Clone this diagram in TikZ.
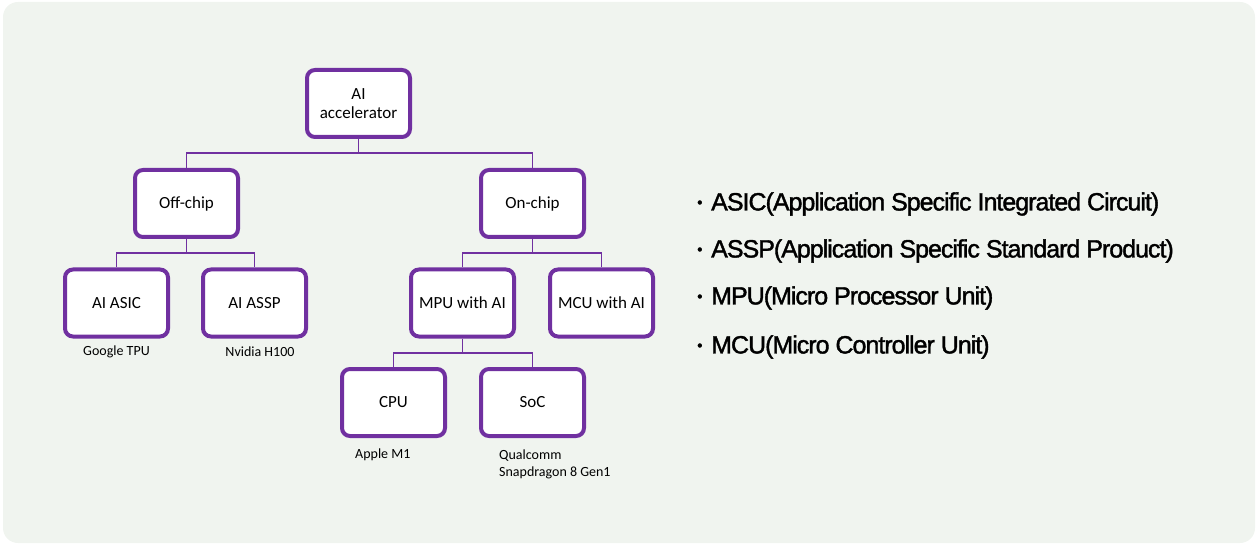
\documentclass[tikz,border=0pt]{standalone}
\usepackage{fontspec}
\setmainfont{Carlito}
\newfontfamily\kfont[FakeBold=1.5,LetterSpace=-4]{Liberation Sans}
\definecolor{bg}{HTML}{F0F4EF}
\definecolor{pur}{HTML}{7030A0}
\newcommand{\bul}{\makebox[14pt][l]{\raisebox{3pt}{\fontsize{15}{16}\selectfont\textbullet}}}
\begin{document}
\begin{tikzpicture}[x=1pt,y=-1pt,
  box/.style={draw=pur,line width=4pt,rounded corners=8pt,fill=white,minimum width=103pt,minimum height=67pt,font=\fontsize{17}{19}\selectfont,align=center,inner sep=0pt},
  conn/.style={draw=pur,line width=1.3pt},
  lbl/.style={font=\fontsize{14}{17}\selectfont,inner sep=0pt},
  item/.style={font=\kfont\fontsize{25}{28}\selectfont,anchor=west,inner sep=0pt}]
\useasboundingbox (0,0) rectangle (1258,545);
\fill[bg,rounded corners=15pt] (3,2) rectangle (1255,543);
\node[box] (acc) at (358.5,103.5) {AI\\accelerator};
\node[box] (off) at (186.5,203.5) {Off-chip};
\node[box] (on) at (532.5,203.5) {On-chip};
\node[box] (asic) at (116.5,303) {AI ASIC};
\node[box] (assp) at (254.5,303) {AI ASSP};
\node[box] (mpu) at (462.5,303) {MPU with AI};
\node[box] (mcu) at (601.5,303) {MCU with AI};
\node[box] (cpu) at (393.5,402.5) {CPU};
\node[box] (soc) at (532.5,402.5) {SoC};
\coordinate (j1) at (358.5,153);
\coordinate (j2) at (186.5,253);
\coordinate (j3) at (532.5,253);
\coordinate (j4) at (462.5,353);
\draw[conn] (acc.south) -- (j1);
\draw[conn] (off.north) |- (j1) -| (on.north);
\draw[conn] (off.south) -- (j2);
\draw[conn] (asic.north) |- (j2) -| (assp.north);
\draw[conn] (on.south) -- (j3);
\draw[conn] (mpu.north) |- (j3) -| (mcu.north);
\draw[conn] (mpu.south) -- (j4);
\draw[conn] (cpu.north) |- (j4) -| (soc.north);
\node[lbl] (l1) at (116.5,352) {Google TPU};
\node[lbl] (l2) at (260,352) {Nvidia H100};
\node[lbl,anchor=west] (l3) at (355,455) {Apple M1};
\node[lbl,anchor=north west,align=left] (l4) at (499,450) {Qualcomm\\Snapdragon 8 Gen1};
\node[item] (b1) at (697,204) {\bul ASIC(Application Specific Integrated Circuit)};
\node[item] (b2) at (697,251) {\bul ASSP(Application Specific Standard Product)};
\node[item] (b3) at (697,298) {\bul MPU(Micro Processor Unit)};
\node[item] (b4) at (697,347) {\bul MCU(Micro Controller Unit)};
\end{tikzpicture}
\end{document}
